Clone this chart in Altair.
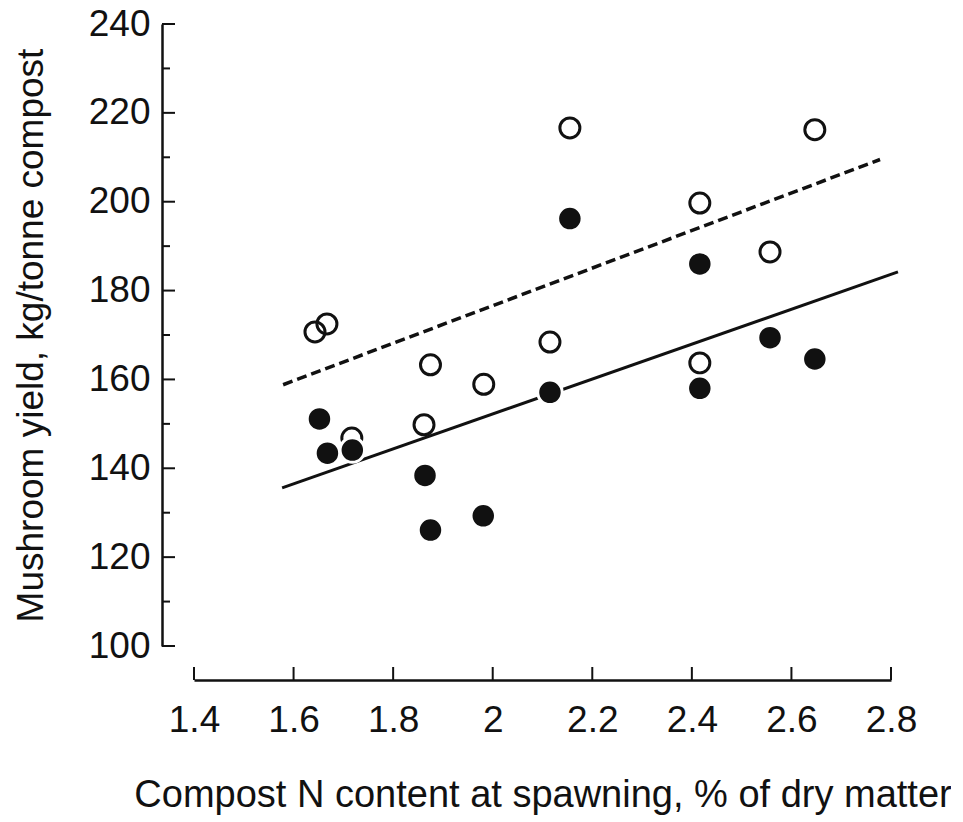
import altair as alt
import pandas as pd

# ---- data ----
x_open = [1.643, 1.667, 1.717, 1.862, 1.875, 1.982, 2.115, 2.155, 2.416, 2.416, 2.557, 2.647]
y_open = [170.7, 172.5, 146.8, 149.8, 163.3, 158.9, 168.4, 216.6, 199.7, 163.7, 188.7, 216.2]

x_filled = [1.652, 1.668, 1.718, 1.864, 1.875, 1.981, 2.115, 2.155, 2.416, 2.416, 2.557, 2.647]
y_filled = [151.1, 143.4, 144.1, 138.4, 126.1, 129.3, 157.1, 196.2, 186.0, 158.0, 169.4, 164.6]

dashed_x = [1.579, 2.778]
dashed_y = [158.8, 209.5]
solid_x = [1.577, 2.814]
solid_y = [135.6, 184.2]

x_ticks = [1.4, 1.6, 1.8, 2.0, 2.2, 2.4, 2.6, 2.8]
y_major = [100, 120, 140, 160, 180, 200, 220, 240]
y_minor = [110, 130, 150, 170, 190, 210, 230]

x_title = "Compost N content at spawning, % of dry matter"
y_title = "Mushroom yield, kg/tonne compost"

# ---- layout / style ----
FONT = "Liberation Sans"
FS = 37
TFS = 38
W, H = 697, 622
YOFF, XOFF = 32, 34
INK = "#111111"

xscale = alt.Scale(domain=[1.4, 2.8], nice=False, zero=False)
yscale = alt.Scale(domain=[100, 240], nice=False, zero=False)

xaxis = alt.Axis(
    values=x_ticks, format="~g", offset=XOFF, ticks=False, grid=False,
    domainColor=INK, domainWidth=2.5, labelFont=FONT, labelFontSize=FS,
    labelColor=INK, labelPadding=22, labelFlush=False, labelOverlap=False,
    title=x_title, titleFont=FONT, titleFontSize=TFS, titleFontWeight="normal",
    titleColor=INK, titlePadding=38,
)
yaxis = alt.Axis(
    values=y_major, format="d", offset=YOFF, ticks=False, grid=False,
    domainColor=INK, domainWidth=2.5, labelFont=FONT, labelFontSize=FS,
    labelColor=INK, labelPadding=12, labelFlush=False, labelOverlap=False,
    title=y_title, titleFont=FONT, titleFontSize=FS, titleFontWeight="normal",
    titleColor=INK, titlePadding=38,
)

df_open = pd.DataFrame({"x": x_open, "y": y_open})
df_filled = pd.DataFrame({"x": x_filled, "y": y_filled})
df_dash = pd.DataFrame({"x": dashed_x, "y": dashed_y})
df_solid = pd.DataFrame({"x": solid_x, "y": solid_y})
df_xt = pd.DataFrame({"x": x_ticks})
df_ymaj = pd.DataFrame({"y": y_major})
df_ymin = pd.DataFrame({"y": y_minor})

X = alt.X("x:Q", scale=xscale, axis=xaxis)
Y = alt.Y("y:Q", scale=yscale, axis=yaxis)

dashed = alt.Chart(df_dash).mark_line(
    color=INK, strokeWidth=3.5, strokeDash=[10, 5]
).encode(x=X, y=Y)

solid = alt.Chart(df_solid).mark_line(color=INK, strokeWidth=3).encode(x=X, y=Y)

open_pts = alt.Chart(df_open).mark_point(
    shape="circle", filled=False, color=INK, strokeWidth=3, size=400, opacity=1
).encode(x=X, y=Y)

filled_pts = alt.Chart(df_filled).mark_circle(
    fill=INK, stroke="white", strokeWidth=3, size=600, opacity=1, fillOpacity=1
).encode(x=X, y=Y)

y_major_ticks = alt.Chart(df_ymaj).mark_rule(color=INK, strokeWidth=2).encode(
    y=Y, x=alt.value(-YOFF), x2=alt.value(-YOFF + 13),
)
y_minor_ticks = alt.Chart(df_ymin).mark_rule(color=INK, strokeWidth=2).encode(
    y=Y, x=alt.value(-YOFF), x2=alt.value(-YOFF + 8),
)
x_tick_marks = alt.Chart(df_xt).mark_rule(color=INK, strokeWidth=2).encode(
    x=X, y=alt.value(H + XOFF), y2=alt.value(H + XOFF - 13),
)

chart = alt.layer(
    dashed, solid, open_pts, filled_pts,
    y_major_ticks, y_minor_ticks, x_tick_marks,
).properties(
    width=W, height=H,
    autosize=alt.AutoSizeParams(type="none"),
    padding={"left": 186, "top": 16, "right": 60, "bottom": 170},
    background="white",
).configure_view(stroke=None)

chart.save("out.html", embed_options={"renderer": "svg", "actions": False})
